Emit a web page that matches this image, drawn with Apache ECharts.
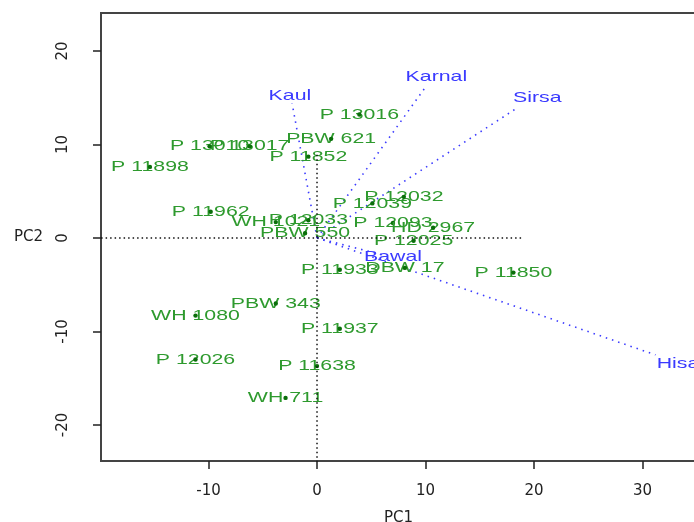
<!DOCTYPE html>
<html>
<head>
<meta charset="utf-8">
<script src="https://cdn.jsdelivr.net/npm/echarts@6/dist/echarts.min.js"></script>
<style>
html,body{margin:0;padding:0;background:#fff;}
#main{width:694px;height:522px;}
</style>
</head>
<body>
<div id="main"></div>
<script>
// genotypes (scores on PC1 / PC2)
var genoNames = ['P 13016','PBW 621','P 11852','P 13010','P 13017','P 11898','P 11962',
    'WH 1021','P 12033','PBW 550','P 12039','P 12032','P 12093','HD 2967','P 12025',
    'P 11933','DBW 17','P 11850','PBW 343','WH 1080','P 11937','P 12026','P 11638','WH 711'];
var genoPC1 = [3.9, 1.3, -0.8, -9.9, -6.2, -15.4, -9.8,
    -3.8, -0.8, -1.1, 5.1, 8.0, 7.0, 10.7, 8.9,
    2.1, 8.1, 18.1, -3.8, -11.2, 2.1, -11.2, 0.0, -2.9];
var genoPC2 = [13.2, 10.6, 8.7, 9.8, 9.8, 7.6, 2.8,
    1.7, 1.9, 0.5, 3.7, 4.4, 1.6, 1.1, -0.3,
    -3.4, -3.2, -3.7, -7.0, -8.3, -9.7, -13.0, -13.7, -17.1];

// environments (loading arrows)
var envNames = ['Kaul','Karnal','Sirsa','Bawal','Hisar'];
var envPC1 = [-2.3, 10.1, 18.3, 6.0, 31.2];
var envPC2 = [14.4, 16.3, 13.8, -1.8, -12.5];
var envLabelPC1 = [-2.5, 11.0, 20.3, 7.0, 33.6];
var envLabelPC2 = [15.2, 17.2, 15.0, -2.0, -13.5];

// axis ticks
var xTicks = [-10, 0, 10, 20, 30];
var yTicks = [-20, -10, 0, 10, 20];

// dotted reference lines through the origin
var hLine = [[-19.9, 0], [19.0, 0]];
var vLine = [[0, 8.9], [0, -23.9]];

var myChart = echarts.init(document.getElementById('main'));

var genoData = genoNames.map(function (n, i) { return [genoPC1[i], genoPC2[i], n]; });
var envData = envNames.map(function (n, i) {
    return [envPC1[i], envPC2[i], envLabelPC1[i], envLabelPC2[i], n];
});

// R text looks stretched sideways in the picture
var txtFont = '15px "Liberation Sans", Arial, sans-serif';
var stretch = 1.42;

var option = {
    animation: false,
    grid: {
        left: 101, top: 13, right: -2, bottom: 61,
        outerBoundsMode: 'none', containLabel: false,
        show: true, borderColor: '#444', borderWidth: 2
    },
    xAxis: {
        type: 'value', min: -19.91, max: 34.93,
        name: 'PC1', nameLocation: 'middle', nameGap: 50,
        nameTextStyle: { color: '#222', fontSize: 15, fontFamily: 'DejaVu Sans' },
        axisLine: { show: true, onZero: false, lineStyle: { color: '#444', width: 2 } },
        axisTick: { show: true, length: 8, lineStyle: { color: '#222', width: 1.5 }, customValues: xTicks },
        axisLabel: { color: '#222', fontSize: 15, fontFamily: 'DejaVu Sans', margin: 23, customValues: xTicks },
        splitLine: { show: false }
    },
    yAxis: {
        type: 'value', min: -23.85, max: 24.06,
        name: 'PC2', nameLocation: 'middle', nameGap: 58, nameRotate: 0,
        nameTextStyle: { color: '#222', fontSize: 15, fontFamily: 'DejaVu Sans' },
        axisLine: { show: true, onZero: false, lineStyle: { color: '#444', width: 2 } },
        axisTick: { show: true, length: 8, lineStyle: { color: '#222', width: 1.5 }, customValues: yTicks },
        axisLabel: { color: '#222', fontSize: 15, fontFamily: 'DejaVu Sans', rotate: 90, margin: 30, customValues: yTicks },
        splitLine: { show: false }
    },
    series: [
        {
            type: 'line', data: hLine, symbol: 'none', silent: true,
            lineStyle: { color: '#111', width: 1.5, type: [1.5, 3] }
        },
        {
            type: 'line', data: vLine, symbol: 'none', silent: true,
            lineStyle: { color: '#111', width: 1.5, type: [1.5, 3] }
        },
        {
            // environment arrows, dotted blue
            type: 'custom',
            data: envData,
            renderItem: function (params, api) {
                var o = api.coord([0, 0]);
                var e = api.coord([api.value(0), api.value(1)]);
                var l = api.coord([api.value(2), api.value(3)]);
                return {
                    type: 'group',
                    children: [
                        {
                            type: 'line',
                            shape: { x1: o[0], y1: o[1], x2: e[0], y2: e[1] },
                            style: { stroke: '#3a3aff', lineWidth: 1.6, lineDash: [1.5, 5] }
                        },
                        {
                            type: 'text', x: l[0], y: l[1], scaleX: stretch,
                            style: {
                                text: envNames[params.dataIndex], font: txtFont,
                                fill: '#3a3aff', align: 'center', verticalAlign: 'middle'
                            }
                        }
                    ]
                };
            }
        },
        {
            // genotype points with labels
            type: 'custom',
            data: genoData,
            renderItem: function (params, api) {
                var p = api.coord([api.value(0), api.value(1)]);
                return {
                    type: 'group',
                    children: [
                        {
                            type: 'text', x: p[0], y: p[1], scaleX: stretch,
                            style: {
                                text: genoNames[params.dataIndex], font: txtFont,
                                fill: '#2e9a2e', align: 'center', verticalAlign: 'middle'
                            }
                        },
                        {
                            type: 'circle',
                            shape: { cx: p[0], cy: p[1], r: 2.2 },
                            style: { fill: '#0a6e0a' }
                        }
                    ]
                };
            }
        }
    ]
};

myChart.setOption(option);
</script>
</body>
</html>
